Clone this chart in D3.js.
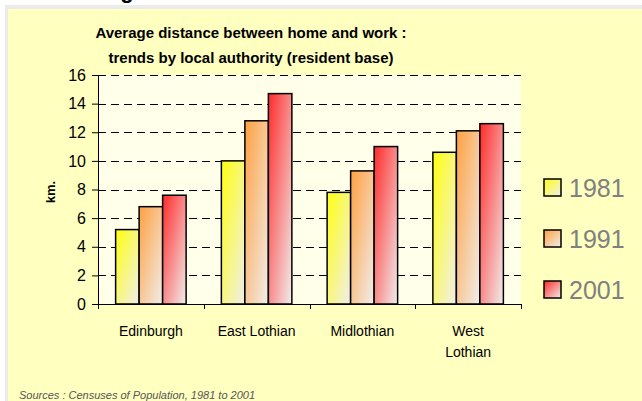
<!DOCTYPE html>
<html>
<head>
<meta charset="utf-8">
<script src="https://cdn.jsdelivr.net/npm/d3@7"></script>
<style>
  body { margin: 0; background: #fff; }
  svg { display: block; font-family: Arial, "Liberation Sans", sans-serif; }
</style>
</head>
<body>
<div id="vis1"></div>
<script>
const CATEGORIES = [["Edinburgh"], ["East Lothian"], ["Midlothian"], ["West", "Lothian"]];
const YEARS = ["1981", "1991", "2001"];
const VALUES_1981 = [5.2, 10.0, 7.8, 10.6];
const VALUES_1991 = [6.8, 12.8, 9.3, 12.1];
const VALUES_2001 = [7.6, 14.7, 11.0, 12.6];
const Y_TICKS = [0, 2, 4, 6, 8, 10, 12, 14, 16];

const FRAME_WIDTH = 642;
const FRAME_HEIGHT = 401;
const PLOT = {left: 98, right: 521, top: 75, bottom: 304};
const COLORS = ["#ffff10", "#ffa040", "#ff2a2a"];

const SERIES = [VALUES_1981, VALUES_1991, VALUES_2001];
const data = CATEGORIES.map((c, i) => ({
  cat: c.join(" "),
  lines: c,
  vals: YEARS.map((y, j) => ({year: y, j: j, value: SERIES[j][i]}))
}));

const FRAME = d3.select("#vis1")
  .append("svg")
    .attr("width", FRAME_WIDTH)
    .attr("height", FRAME_HEIGHT);

// gradients
const defs = FRAME.append("defs");
COLORS.forEach((c, j) => {
  const g = defs.append("linearGradient")
    .attr("id", "grad" + j)
    .attr("x1", 0).attr("y1", 0)
    .attr("x2", 1).attr("y2", 1);
  g.append("stop").attr("offset", "0%").attr("stop-color", c);
  g.append("stop").attr("offset", "100%").attr("stop-color", "#f0eeec");
});

// page heading, mostly above the window
FRAME.append("text")
  .attr("x", 60).attr("y", -2)
  .attr("font-size", 22).attr("font-weight", "bold")
  .text("Average Distance Travelled to Work");

// panel
FRAME.append("rect")
  .attr("x", 5).attr("y", 5)
  .attr("width", FRAME_WIDTH - 5).attr("height", FRAME_HEIGHT - 5)
  .attr("fill", "#ebebeb");
FRAME.append("rect")
  .attr("x", 8).attr("y", 9)
  .attr("width", FRAME_WIDTH - 8).attr("height", FRAME_HEIGHT - 9)
  .attr("fill", "#ffffc0");

// plot area
FRAME.append("rect")
  .attr("x", PLOT.left).attr("y", PLOT.top)
  .attr("width", PLOT.right - PLOT.left).attr("height", PLOT.bottom - PLOT.top)
  .attr("fill", "#ffffea");

const X0 = d3.scaleBand()
  .domain(data.map(d => d.cat))
  .range([PLOT.left, PLOT.right]);

const X1 = d3.scaleBand()
  .domain(YEARS)
  .range([0, X0.bandwidth()])
  .paddingOuter(0.75);

const Y = d3.scaleLinear()
  .domain([0, 16])
  .range([PLOT.bottom, PLOT.top]);

// gridlines
FRAME.append("g")
  .selectAll("line")
  .data(Y_TICKS.filter(t => t > 0))
  .enter()
  .append("line")
    .attr("x1", PLOT.left).attr("x2", PLOT.right)
    .attr("y1", d => Math.round(Y(d)) + 0.5)
    .attr("y2", d => Math.round(Y(d)) + 0.5)
    .attr("stroke", "#000")
    .attr("stroke-dasharray", "8,5");

// bars
const groups = FRAME.append("g")
  .selectAll("g")
  .data(data)
  .enter()
  .append("g")
    .attr("transform", d => "translate(" + X0(d.cat) + ",0)");

groups.selectAll("rect")
  .data(d => d.vals)
  .enter()
  .append("rect")
    .attr("x", d => X1(d.year))
    .attr("y", d => Y(d.value))
    .attr("width", X1.bandwidth())
    .attr("height", d => Y(0) - Y(d.value))
    .attr("fill", d => "url(#grad" + d.j + ")")
    .attr("stroke", "#000")
    .attr("stroke-width", 1.5);

// y axis
const yAxis = FRAME.append("g")
  .attr("transform", "translate(" + PLOT.left + ",0)")
  .call(d3.axisLeft(Y).tickValues(Y_TICKS).tickSize(6).tickPadding(6).tickSizeOuter(0));
yAxis.selectAll("text").attr("font-size", 16).attr("fill", "#000")
  .attr("font-family", "Arial, 'Liberation Sans', sans-serif");
yAxis.selectAll("line").attr("stroke", "#000");
yAxis.select(".domain").attr("stroke", "#000");

// x axis
const xAxis = FRAME.append("g")
  .attr("transform", "translate(0," + PLOT.bottom + ")");
xAxis.append("line")
  .attr("x1", PLOT.left).attr("x2", PLOT.right)
  .attr("y1", 0.5).attr("y2", 0.5)
  .attr("stroke", "#000");
xAxis.selectAll(".tk")
  .data(data.map(d => X0(d.cat)).concat([PLOT.right]))
  .enter()
  .append("line")
    .attr("x1", d => Math.round(d) + 0.5).attr("x2", d => Math.round(d) + 0.5)
    .attr("y1", 0).attr("y2", 5)
    .attr("stroke", "#000");

const catLabels = FRAME.append("g")
  .selectAll("text")
  .data(data)
  .enter()
  .append("text")
    .attr("x", d => X0(d.cat) + X0.bandwidth() / 2)
    .attr("y", 336)
    .attr("text-anchor", "middle")
    .attr("font-size", 14);
catLabels.selectAll("tspan")
  .data(d => d.lines)
  .enter()
  .append("tspan")
    .attr("x", function() { return d3.select(this.parentNode).attr("x"); })
    .attr("dy", (d, i) => i === 0 ? 0 : 21)
    .text(d => d);

// y title
FRAME.append("text")
  .attr("transform", "translate(55,192) rotate(-90)")
  .attr("text-anchor", "middle")
  .attr("font-size", 13).attr("font-weight", "bold")
  .text("km.");

// chart title
FRAME.append("text")
  .attr("x", 251).attr("y", 38)
  .attr("text-anchor", "middle")
  .attr("font-size", 15).attr("font-weight", "bold")
  .text("Average distance between home and work :");
FRAME.append("text")
  .attr("x", 251).attr("y", 63)
  .attr("text-anchor", "middle")
  .attr("font-size", 15).attr("font-weight", "bold")
  .text("trends by local authority (resident base)");

// legend
const legend = FRAME.append("g")
  .selectAll("g")
  .data(YEARS)
  .enter()
  .append("g")
    .attr("transform", (d, i) => "translate(544," + (179 + i * 51) + ")");
legend.append("rect")
  .attr("width", 17).attr("height", 17)
  .attr("fill", (d, i) => "url(#grad" + i + ")")
  .attr("stroke", "#000").attr("stroke-width", 1.5);
legend.append("text")
  .attr("x", 25).attr("y", 18)
  .attr("font-size", 25).attr("fill", "#808080")
  .text(d => d);

// source
FRAME.append("text")
  .attr("x", 19).attr("y", 399)
  .attr("font-size", 11).attr("font-style", "italic").attr("fill", "#555")
  .text("Sources : Censuses of Population, 1981 to 2001");
</script>
</body>
</html>
